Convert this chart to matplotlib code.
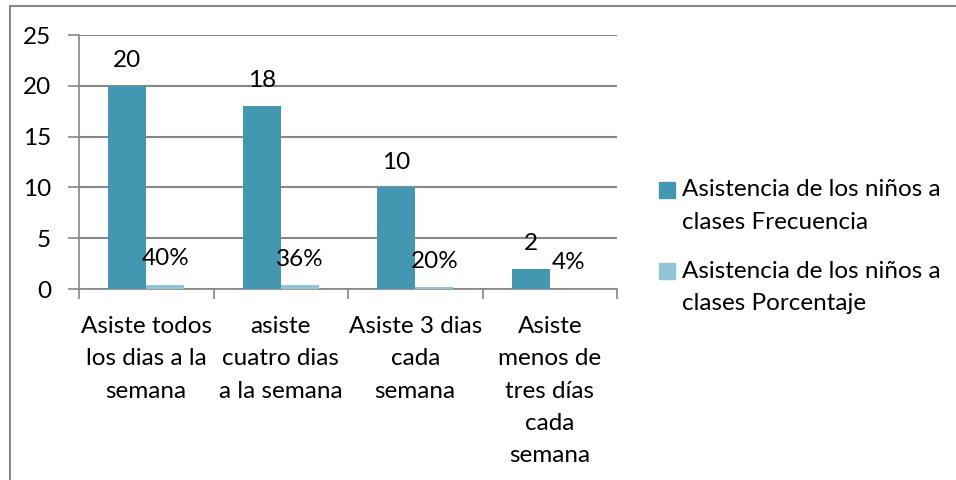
import matplotlib
matplotlib.use("Agg")
import matplotlib.pyplot as plt
from matplotlib.patches import Rectangle
import numpy as np

categories = ["Asiste todos\nlos dias a la\nsemana",
              "asiste\ncuatro dias\na la semana",
              "Asiste 3 dias\ncada\nsemana",
              "Asiste\nmenos de\ntres días\ncada\nsemana"]
frecuencia = [20, 18, 10, 2]
porcentaje = [0.40, 0.36, 0.20, 0.04]
series_names = ["Asistencia de los niños a\nclases Frecuencia",
                "Asistencia de los niños a\nclases Porcentaje"]
yticks = [0, 5, 10, 15, 20, 25]

teal = "#4397B0"
light = "#93C5D8"
grid_c = "#878787"

plt.rcParams['font.family'] = ['Lato', 'DejaVu Sans']
FS = 17.5

W, H = 956, 480
fig = plt.figure(figsize=(W/100, H/100), dpi=100)
ax = fig.add_axes([79/W, 1-289/H, (617-79)/W, (289-35)/H])

x = np.arange(len(categories))
w = 0.284
b1 = ax.bar(x - w/2, frecuencia, width=w, color=teal, zorder=3)
b2 = ax.bar(x + w/2, porcentaje, width=w, color=light, zorder=3)

for rect, v in zip(b1, frecuencia):
    ax.annotate(f"{v}", (rect.get_x() + rect.get_width()/2, rect.get_height()),
                xytext=(0, 13.5), textcoords="offset points", ha="center",
                va="baseline", fontsize=FS, color="black")
for rect, v in zip(b2, porcentaje):
    ax.annotate(f"{v*100:.0f}%", (rect.get_x() + rect.get_width()/2, rect.get_height()),
                xytext=(0, 14), textcoords="offset points", ha="center",
                va="baseline", fontsize=FS, color="black")

ax.set_xlim(-0.5, len(categories) - 0.5)
ax.set_ylim(0, 25)
ax.set_yticks(yticks)
ax.set_yticklabels([str(t) for t in yticks], fontsize=FS)
ax.yaxis.grid(True, color=grid_c, linewidth=1.5, zorder=0)
ax.set_axisbelow(True)

ax.set_xticks(np.arange(-0.5, len(categories), 1.0))
ax.set_xticklabels([])
ax.set_xticks(x, minor=True)
ax.set_xticklabels(categories, minor=True, fontsize=FS, linespacing=1.66, va="top")
ax.tick_params(axis="x", which="major", length=7, width=1.2, color=grid_c, direction="out")
ax.tick_params(axis="x", which="minor", length=0, pad=19.5)
ax.tick_params(axis="y", length=8, width=1.2, color=grid_c, direction="out", pad=12)

for s in ["top", "right"]:
    ax.spines[s].set_visible(False)
for s in ["left", "bottom"]:
    ax.spines[s].set_color(grid_c)
    ax.spines[s].set_linewidth(1.2)

# legend (manual placement, Excel-like)
sq = 16
for i, (name, col) in enumerate(zip(series_names, [teal, light])):
    ytop = 190 + i*81
    fig.patches.append(Rectangle((659/W, 1-(ytop+sq/2)/H), sq/W, sq/H,
                                 transform=fig.transFigure, color=col))
    for j, ln in enumerate(name.split("\n")):
        fig.text(682/W, 1-(ytop + j*32.5)/H, ln, fontsize=FS, va="center", ha="left")

# outer chart border
fig.patches.append(Rectangle((9.5/W, -0.1), 1.2, 1.1 - 6/H, transform=fig.transFigure,
                             fill=False, edgecolor=grid_c, linewidth=1.5))

fig.savefig("out.png", dpi=100)
